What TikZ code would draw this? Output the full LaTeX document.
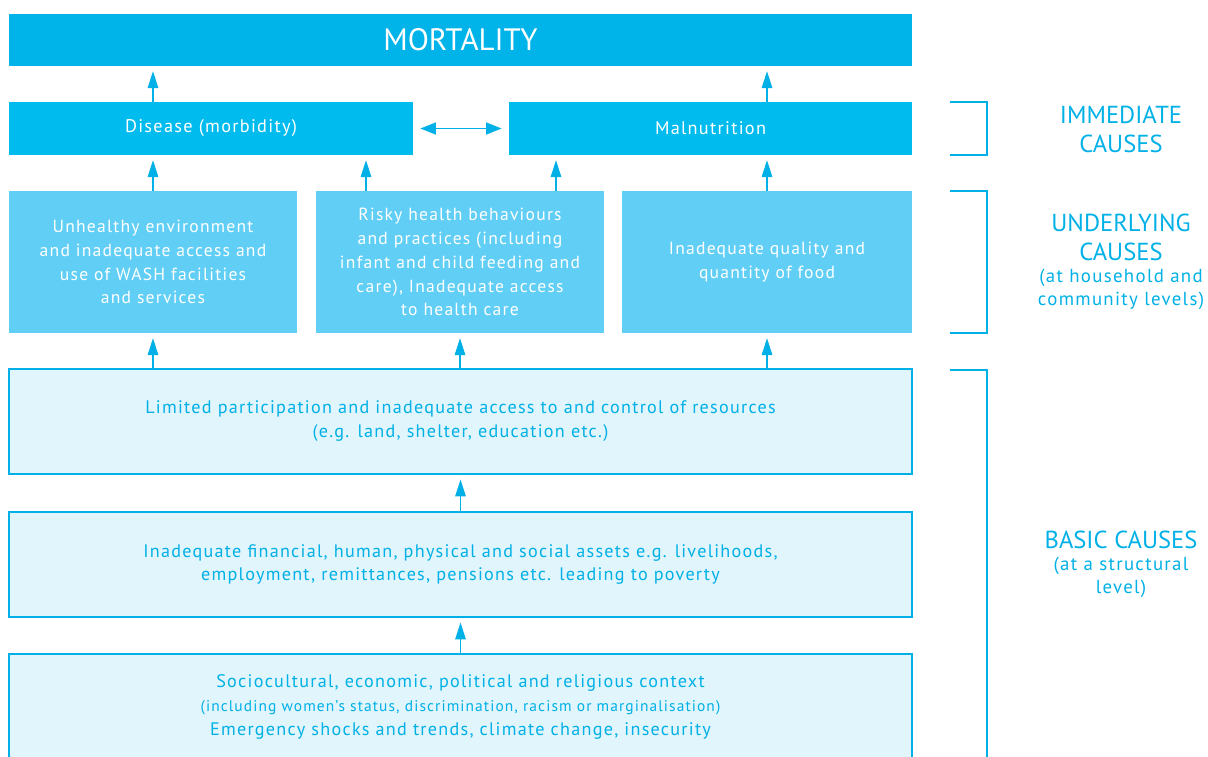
\documentclass[tikz,border=0pt]{standalone}
\usepackage{fontspec}
\setmainfont{PT Sans}[LetterSpace=7]
\newfontfamily\headfont{PT Sans}
\usetikzlibrary{arrows.meta,calc}

\definecolor{mortblue}{RGB}{0,179,233}
\definecolor{immblue}{RGB}{0,187,238}
\definecolor{undblue}{RGB}{97,206,245}
\definecolor{basicfill}{RGB}{225,245,253}
\definecolor{causeblue}{RGB}{0,176,230}

\begin{document}
\begin{tikzpicture}[x=0.025cm, y=-0.025cm,
        box/.style={inner sep=0pt, align=center},
        mortbox/.style={box, fill=mortblue, text=white, minimum width=22.575cm, minimum height=1.3cm,
            font=\headfont\fontsize{22}{26}\selectfont},
        immbox/.style={box, fill=immblue, text=white, minimum height=1.325cm,
            font=\fontsize{13}{15}\selectfont},
        undbox/.style={box, fill=undblue, text=white, minimum height=3.55cm,
            font=\fontsize{12.5}{17}\selectfont},
        basicbox/.style={box, fill=basicfill, draw=causeblue, line width=0.9pt, text=causeblue,
            minimum width=22.575cm, font=\fontsize{12.9}{17}\selectfont},
        upar/.style={draw=causeblue, line width=0.9pt, -{Triangle[width=7.5pt, length=12pt]}},
        bracket/.style={draw=causeblue, line width=0.9pt},
        level/.style={align=center, text=causeblue, font=\headfont\fontsize{17.5}{20.6}\selectfont},
        levelsub/.style={align=center, text=causeblue, font=\fontsize{13.4}{16.4}\selectfont}
    ]
    \useasboundingbox (0,0) rectangle (1208,756);

    \node[mortbox] (mort) at (460.5,40) {MORTALITY};

    \node[immbox, minimum width=10.1cm] (disease) at (211,128.5) {Disease (morbidity)};
    \node[immbox, minimum width=10.075cm] (malnut) at (710.5,128.5) {Malnutrition};

    \node[undbox, minimum width=7.2cm] (unA) at (153,262)
        {Unhealthy environment\\and inadequate access and\\use of WASH facilities\\and services};
    \node[undbox, minimum width=7.2cm] (unB) at (460,262)
        {Risky health behaviours\\and practices (including\\infant and child feeding and\\care), Inadequate access\\to health care};
    \node[undbox, minimum width=7.25cm] (unC) at (767,262)
        {Inadequate quality and\\quantity of food};

    \node[basicbox, minimum height=2.625cm] (basicA) at (460.5,421.5)
        {Limited participation and inadequate access to and control of resources\\(e.g. land, shelter, education etc.)};
    \node[basicbox, minimum height=2.625cm] (basicB) at (460.5,564.5)
        {Inadequate financial, human, physical and social assets e.g. livelihoods,\\employment, remittances, pensions etc. leading to poverty};
    \node[basicbox, minimum height=2.65cm] (basicC) at (460.5,707)
        {Sociocultural, economic, political and religious context\\
         {\fontsize{11}{17}\selectfont(including women’s status, discrimination, racism or marginalisation)}\\
         Emergency shocks and trends, climate change, insecurity};

    % arrows between the levels
    \draw[upar, shorten >=3.5pt] (unA.north |- disease.north) -- (unA.north |- mort.south);
    \draw[upar, shorten >=3.5pt] (unC.north |- malnut.north) -- (unC.north |- mort.south);
    \draw[upar, {Triangle[width=8.5pt, length=11pt]}-{Triangle[width=8.5pt, length=11pt]}, shorten <=5pt, shorten >=5pt]
        (disease.east) -- (malnut.west);

    \draw[upar, shorten >=3.5pt] (unA.north) -- (unA.north |- disease.south);
    \draw[upar, shorten >=3.5pt] ($(unB.north)+(-94,0)$) -- ($(unB.north |- disease.south)+(-94,0)$);
    \draw[upar, shorten >=3.5pt] ($(unB.north)+(96,0)$) -- ($(unB.north |- malnut.south)+(96,0)$);
    \draw[upar, shorten >=3.5pt] (unC.north) -- (unC.north |- malnut.south);

    \draw[upar, shorten >=3.5pt] (unA.south |- basicA.north) -- (unA.south);
    \draw[upar, shorten >=3.5pt] (unB.south |- basicA.north) -- (unB.south);
    \draw[upar, shorten >=3.5pt] (unC.south |- basicA.north) -- (unC.south);

    \draw[upar, shorten >=3.5pt] (basicB.north) -- (basicA.south);
    \draw[upar, shorten >=3.5pt] (basicC.north) -- (basicB.south);

    % brackets and level names
    \draw[bracket] (950,102) -| (987,155) -- (950,155);
    \draw[bracket] (950,191) -| (987,333) -- (950,333);
    \draw[bracket] (950,370) -| (987,760);

    \node[level] (immlabel) at (1121,129.5) {IMMEDIATE\\CAUSES};
    \node[level] (undlabel) at (1121,237.5) {UNDERLYING\\CAUSES};
    \node[levelsub] (undsub) at (1121,289.5) {(at household and\\community levels)};
    \node[level] (baslabel) at (1121,540) {BASIC CAUSES};
    \node[levelsub] (bassub) at (1121,577.5) {(at a structural\\level)};
\end{tikzpicture}
\end{document}
